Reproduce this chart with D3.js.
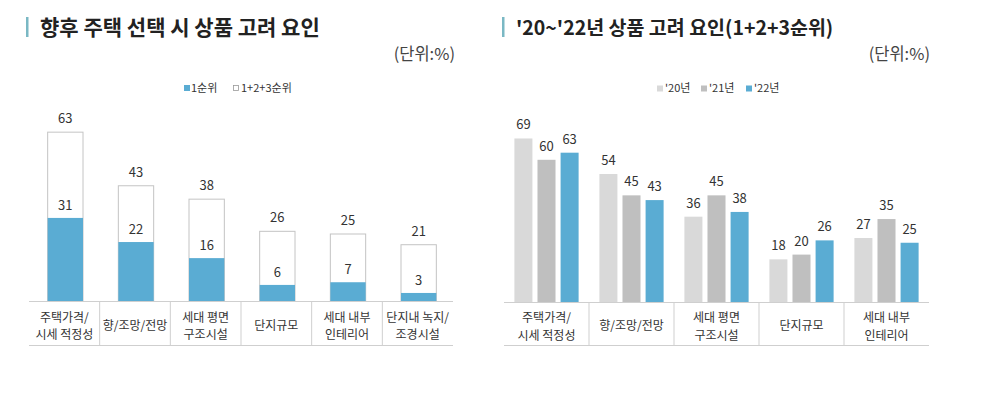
<!DOCTYPE html>
<html><head><meta charset="utf-8">
<script src="https://cdn.jsdelivr.net/npm/d3@7"></script>
<style>
html,body{margin:0;padding:0;background:#fff;}
#wrap{position:relative;width:987px;height:395px;}
svg{display:block;font-family:"Noto Sans CJK KR","Noto Sans",sans-serif;}
.cat{position:absolute;font-family:"Noto Sans CJK KR","Noto Sans",sans-serif;font-size:12px;line-height:17.5px;color:#333;text-align:center;white-space:nowrap;transform:translate(-50%,-50%);}
</style></head>
<body>
<div id="wrap"><svg id="c" width="987" height="395"></svg></div>
<script>
// ---- Left chart data ----
const leftTitle = "향후 주택 선택 시 상품 고려 요인";
const leftCategories = [["주택가격/","시세 적정성"],["향/조망/전망"],["세대 평면","구조시설"],["단지규모"],["세대 내부","인테리어"],["단지내 녹지/","조경시설"]];
const leftFirst = [31, 22, 16, 6, 7, 3];
const leftTotal = [63, 43, 38, 26, 25, 21];
const leftLegend = ["1순위", "1+2+3순위"];

// ---- Right chart data ----
const rightTitle = "'20~'22년 상품 고려 요인(1+2+3순위)";
const rightCategories = [["주택가격/","시세 적정성"],["향/조망/전망"],["세대 평면","구조시설"],["단지규모"],["세대 내부","인테리어"]];
const years = ["'20년", "'21년", "'22년"];
const v20 = [69, 54, 36, 18, 27];
const v21 = [60, 45, 45, 20, 35];
const v22 = [63, 43, 38, 26, 25];
const unitLabel = "(단위:%)";

const BLUE = "#5aacd3", LG = "#d9d9d9", MG = "#bfbfbf", LINE = "#cfcfcf", TXT = "#333";
const svg = d3.select("#c");
const wrap = d3.select("#wrap");

function header(x0, title, unitRight, fs){
  svg.append("rect").attr("x", x0).attr("y", 17).attr("width", 2.5).attr("height", 20).attr("fill", "#7ab8c4");
  svg.append("text").attr("x", x0 + 14).attr("y", 35).attr("font-size", fs).attr("font-weight", 700)
    .attr("fill", "#222").text(title);
  svg.append("text").attr("x", unitRight).attr("y", 60).attr("text-anchor", "end").attr("font-size", 16.5)
    .attr("fill", "#444").text(unitLabel);
}

function categoryAxis(x, y0, yBottom, cats){
  const [r0, r1] = x.range();
  svg.append("line").attr("x1", r0).attr("x2", r1).attr("y1", y0).attr("y2", y0).attr("stroke", LINE);
  svg.append("line").attr("x1", r0).attr("x2", r1).attr("y1", yBottom).attr("y2", yBottom).attr("stroke", LINE);
  cats.forEach((c, i) => {
    if (i > 0) {
      const xs = x(i);
      svg.append("line").attr("x1", xs).attr("x2", xs).attr("y1", y0).attr("y2", yBottom).attr("stroke", LINE);
    }
    const cx = x(i) + x.bandwidth() / 2;
    const mid = (y0 + yBottom) / 2 + 1;
    wrap.append("div").attr("class", "cat")
      .style("left", cx + "px").style("top", mid + "px")
      .html(c.join("<br>"));
  });
}

// ---- Left chart ----
header(26, leftTitle, 455, 21);
{
  const x = d3.scaleBand().domain(d3.range(leftCategories.length)).range([29, 453]).paddingInner(0).paddingOuter(0);
  const y = d3.scaleLinear().domain([0, 70]).range([301, 301 - 70 * 2.68]);
  const bw = x.bandwidth() * 0.5;
  const g = svg.append("g");
  // legend
  const lg = svg.append("g").attr("font-size", 11).attr("fill", TXT);
  lg.append("rect").attr("x", 184).attr("y", 85).attr("width", 6).attr("height", 6).attr("fill", BLUE);
  lg.append("text").attr("x", 191).attr("y", 92).text(leftLegend[0]);
  lg.append("rect").attr("x", 233.5).attr("y", 85.5).attr("width", 5).attr("height", 5).attr("fill", "#fff").attr("stroke", "#999").attr("stroke-width", 0.8);
  lg.append("text").attr("x", 241).attr("y", 92).text(leftLegend[1]);

  leftTotal.forEach((v, i) => {
    const bx = x(i) + (x.bandwidth() - bw) / 2 + 1;
    g.append("rect").attr("x", bx).attr("y", y(v)).attr("width", bw).attr("height", y(0) - y(v))
      .attr("fill", "#fff").attr("stroke", "#c4c4c4").attr("stroke-width", 1);
    g.append("rect").attr("x", bx).attr("y", y(leftFirst[i])).attr("width", bw).attr("height", y(0) - y(leftFirst[i]))
      .attr("fill", BLUE);
    g.append("text").attr("x", bx + bw / 2).attr("y", y(v) - 9).attr("text-anchor", "middle")
      .attr("font-size", 13).attr("fill", TXT).text(v);
    g.append("text").attr("x", bx + bw / 2).attr("y", y(leftFirst[i]) - 8).attr("text-anchor", "middle")
      .attr("font-size", 13).attr("fill", TXT).text(leftFirst[i]);
  });
  categoryAxis(x, 301.5, 345.5, leftCategories);
}

// ---- Right chart ----
header(502, rightTitle, 930, 19.5);
{
  const x = d3.scaleBand().domain(d3.range(rightCategories.length)).range([504, 929]).paddingInner(0).paddingOuter(0);
  const x1 = d3.scaleBand().domain(years).range([0, x.bandwidth()]).paddingInner(0.22).paddingOuter(0.45);
  const y = d3.scaleLinear().domain([0, 70]).range([302, 302 - 70 * 2.37]);
  const series = [v20, v21, v22];
  const colors = [LG, MG, BLUE];
  const lg = svg.append("g").attr("font-size", 11).attr("fill", TXT);
  const lx = [657, 701, 746];
  years.forEach((yr, k) => {
    lg.append("rect").attr("x", lx[k]).attr("y", 85.5).attr("width", 6).attr("height", 6).attr("fill", colors[k]);
    lg.append("text").attr("x", lx[k] + 8).attr("y", 92).text(yr);
  });
  const g = svg.append("g");
  rightCategories.forEach((c, i) => {
    years.forEach((yr, k) => {
      const v = series[k][i];
      const bx = x(i) + x1(yr);
      g.append("rect").attr("x", bx).attr("y", y(v)).attr("width", x1.bandwidth()).attr("height", y(0) - y(v))
        .attr("fill", colors[k]);
      g.append("text").attr("x", bx + x1.bandwidth() / 2).attr("y", y(v) - 9).attr("text-anchor", "middle")
        .attr("font-size", 13).attr("fill", TXT).text(v);
    });
  });
  categoryAxis(x, 302.5, 345.5, rightCategories);
}
</script>
</body></html>
